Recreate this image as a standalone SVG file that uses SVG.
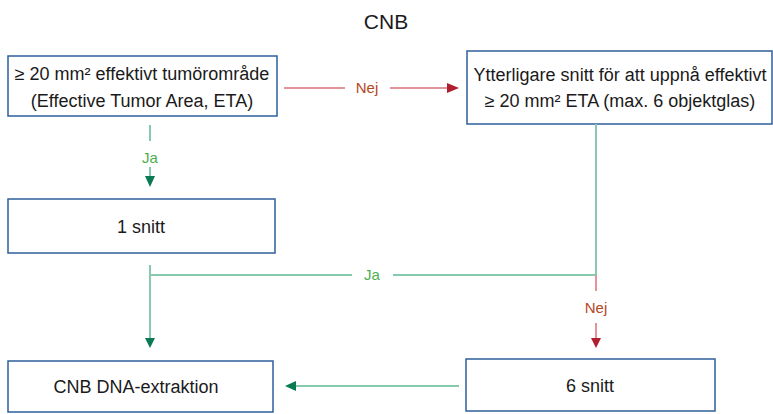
<svg xmlns="http://www.w3.org/2000/svg" width="773" height="414" viewBox="0 0 773 414">
<style>
.box{fill:#fff;stroke:#2f5f9c;stroke-width:1.5}
.t{font-family:"Liberation Sans",Arial,sans-serif;font-size:18px;fill:#1a1a1a;text-anchor:middle}
.g{stroke:#86c9ad;stroke-width:2;fill:none}
.r{stroke:#e3949b;stroke-width:2;fill:none}
.lg{font-family:"Liberation Sans",Arial,sans-serif;font-size:15px;fill:#4caf50;text-anchor:middle}
.lr{font-family:"Liberation Sans",Arial,sans-serif;font-size:15px;fill:#b5481f;text-anchor:middle}
.ag{fill:#0b7a52}
.ar{fill:#b01f30}
</style>
<rect width="773" height="414" fill="#fff"/>
<text x="386" y="29" class="t" style="font-size:21px">CNB</text>
<g id="n1"><rect class="box" x="8" y="56" width="269" height="60"/>
<text class="t" x="142" y="80">≥ 20 mm² effektivt tumörområde</text>
<text class="t" x="142" y="107">(Effective Tumor Area, ETA)</text></g>
<g id="n2"><rect class="box" x="467" y="51" width="305" height="73"/>
<text class="t" x="620" y="81">Ytterligare snitt för att uppnå effektivt</text>
<text class="t" x="620" y="107">≥ 20 mm² ETA (max. 6 objektglas)</text></g>
<g id="n3"><rect class="box" x="8" y="199" width="267" height="54"/>
<text class="t" x="141" y="233">1 snitt</text></g>
<g id="n4"><rect class="box" x="8" y="361" width="265" height="51"/>
<text class="t" x="136" y="393">CNB DNA-extraktion</text></g>
<g id="n5"><rect class="box" x="466" y="359" width="249" height="52"/>
<text class="t" x="590" y="392">6 snitt</text></g>
<g id="connectors">
<path class="r" d="M284 88H345M390 88H449"/>
<polygon class="ar" points="447,83 459,88 447,93"/>
<text class="lr" x="367" y="93">Nej</text>
<path class="g" d="M150 125V141M150 167V178"/>
<polygon class="ag" points="145,176 155,176 150,187"/>
<text class="lg" x="150" y="163">Ja</text>
<path class="g" d="M596 124V275H393M352 275H150M150 265V340"/>
<polygon class="ag" points="145,338 155,338 150,348"/>
<text class="lg" x="372" y="280">Ja</text>
<path class="r" d="M596 275V291M596 323V340"/>
<polygon class="ar" points="591,338 601,338 596,348"/>
<text class="lr" x="596" y="313">Nej</text>
<path class="g" d="M459 386H294"/>
<polygon class="ag" points="296,381 296,391 285,386"/>
</g>
</svg>
